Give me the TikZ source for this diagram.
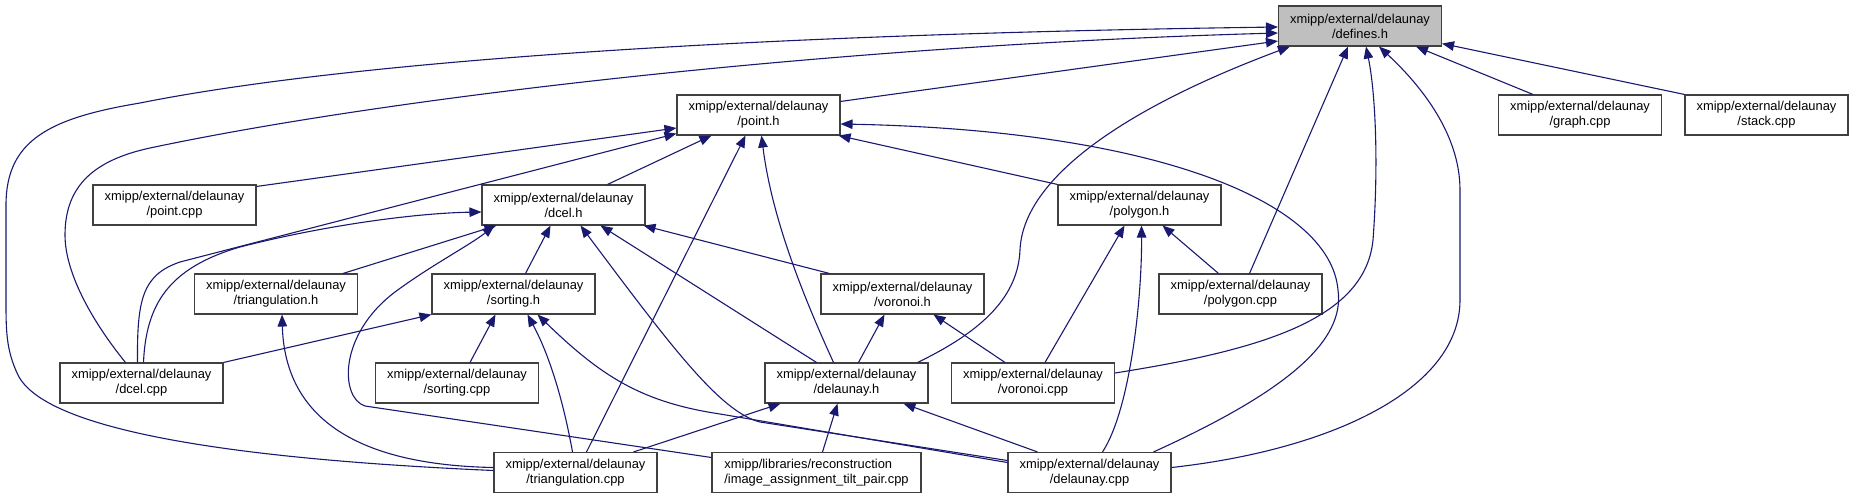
\documentclass[tikz,border=0pt]{standalone}
\usepackage{fontspec}
\setmainfont{Liberation Sans}
\usetikzlibrary{arrows.meta,calc}
\definecolor{depblue}{RGB}{25,25,112}
\definecolor{focusgray}{RGB}{191,191,191}
\definecolor{boxline}{RGB}{64,64,64}

\begin{document}
\begin{tikzpicture}[x=1pt,y=-1pt,
    hfile/.style={rectangle,draw=boxline,line width=1.1pt,fill=white,minimum width=163pt,
      minimum height=40pt,inner sep=0pt,align=center,font=\fontsize{12.9}{15}\selectfont},
    dep/.style={-{Triangle[length=12pt,width=9.5pt]},draw=depblue,line width=1.1pt}]
        \useasboundingbox (0,0) rectangle (1853,499);

        \node[hfile,fill=focusgray] (defines) at (1360,26) {xmipp/external/delaunay\\/defines.h};

        \node[hfile] (pointh) at (758.5,115) {xmipp/external/delaunay\\/point.h};
        \node[hfile] (graphcpp) at (1580,115) {xmipp/external/delaunay\\/graph.cpp};
        \node[hfile] (stackcpp) at (1766.5,115) {xmipp/external/delaunay\\/stack.cpp};

        \node[hfile] (pointcpp) at (174.5,205) {xmipp/external/delaunay\\/point.cpp};
        \node[hfile] (dcelh) at (563.5,205) {xmipp/external/delaunay\\/dcel.h};
        \node[hfile] (polygonh) at (1139.5,205) {xmipp/external/delaunay\\/polygon.h};

        \node[hfile] (trih) at (276,294) {xmipp/external/delaunay\\/triangulation.h};
        \node[hfile] (sortingh) at (513.5,294) {xmipp/external/delaunay\\/sorting.h};
        \node[hfile] (voronoih) at (902.5,294) {xmipp/external/delaunay\\/voronoi.h};
        \node[hfile] (polygoncpp) at (1240.5,294) {xmipp/external/delaunay\\/polygon.cpp};

        \node[hfile] (dcelcpp) at (141.5,383) {xmipp/external/delaunay\\/dcel.cpp};
        \node[hfile] (sortingcpp) at (457,383) {xmipp/external/delaunay\\/sorting.cpp};
        \node[hfile] (delaunayh) at (846.5,383) {xmipp/external/delaunay\\/delaunay.h};
        \node[hfile] (voronoicpp) at (1033,383) {xmipp/external/delaunay\\/voronoi.cpp};

        \node[hfile] (tricpp) at (575.5,472.5) {xmipp/external/delaunay\\/triangulation.cpp};
        \node[hfile,minimum width=209pt,align=left] (imgpair) at (816.5,472.5) {xmipp/libraries/reconstruction\\/image\_assignment\_tilt\_pair.cpp};
        \node[hfile] (delaunaycpp) at (1089.5,472.5) {xmipp/external/delaunay\\/delaunay.cpp};

        \draw[dep] ($(tricpp.west)+(0,-2)$) .. controls (300,462) and (50,440) .. (18,375) .. controls (6,350) and (6,330) .. (6,300) -- (6,205) .. controls (6,140) and (50,118) .. (140,103) .. controls (330,65) and (700,35) .. ($(defines.west)+(0,1)$);
        \draw[dep] ($(dcelcpp.north)+(-16,0)$) .. controls (95,325) and (65,275) .. (65,235) .. controls (65,185) and (95,160) .. (150,148) .. controls (400,95) and (850,45) .. ($(defines.west)+(0,7)$);
        \draw[dep] ($(pointh.north east)+(0,7)$) -- ($(defines.west)+(0,15)$);
        \draw[dep] ($(delaunayh.north east)+(-11,0)$) .. controls (985,330) and (1018,295) .. (1020,250) .. controls (1023,180) and (1120,110) .. ($(defines.south west)+(12,0)$);
        \draw[dep] ($(polygoncpp.north)+(9,0)$) -- ($(defines.south)+(-12,0)$);
        \draw[dep] ($(voronoicpp.east)+(0,-10)$) .. controls (1260,350) and (1365,320) .. (1373,240) .. controls (1379,160) and (1375,90) .. ($(defines.south)+(6,0)$);
        \draw[dep] ($(delaunaycpp.east)+(0,-5)$) .. controls (1330,450) and (1460,390) .. (1460,300) -- (1460,190) .. controls (1460,130) and (1415,80) .. ($(defines.south)+(19,0)$);
        \draw[dep] ($(graphcpp.north)+(-47,0)$) -- ($(defines.south)+(56,0)$);
        \draw[dep] (stackcpp.north west) -- ($(defines.south east)+(0,-3)$);

        \draw[dep] ($(pointcpp.north east)+(0,2)$) -- ($(pointh.west)+(0,13)$);
        \draw[dep] ($(dcelcpp.north)+(-4,0)$) .. controls (137,300) and (142,275) .. (180,262) -- ($(pointh.south west)+(0,-2)$);
        \draw[dep] ($(dcelh.north)+(44,0)$) -- ($(pointh.south west)+(35,0)$);
        \draw[dep] ($(tricpp.north)+(11,0)$) -- ($(pointh.south)+(-13,0)$);
        \draw[dep] ($(delaunayh.north)+(-13,0)$) .. controls (805,300) and (772,220) .. ($(pointh.south)+(3,0)$);
        \draw[dep] (polygonh.north west) -- ($(pointh.south east)+(-2,0)$);
        \draw[dep] ($(delaunaycpp.north)+(64,0)$) .. controls (1290,390) and (1345,340) .. (1338,290) .. controls (1330,200) and (1150,130) .. ($(pointh.east)+(0,9)$);

        \draw[dep] ($(dcelcpp.north)+(2,0)$) .. controls (146,305) and (168,268) .. (240,247) .. controls (330,224) and (420,213) .. ($(dcelh.west)+(0,7)$);
        \draw[dep] ($(trih.north)+(67,0)$) -- ($(dcelh.south west)+(15,0)$);
        \draw[dep] ($(imgpair.west)+(0,-15)$) -- (365,406) .. controls (340,398) and (338,335) .. (395,292) .. controls (430,266) and (470,245) .. ($(dcelh.south west)+(13,0)$);
        \draw[dep] ($(sortingh.north)+(12,0)$) -- ($(dcelh.south)+(-13,0)$);
        \draw[dep] ($(delaunaycpp.west)+(0,-12)$) -- (760,422) .. controls (720,412) and (670,345) .. ($(dcelh.south)+(17,0)$);
        \draw[dep] ($(delaunayh.north)+(-30,0)$) -- ($(dcelh.south)+(37,0)$);
        \draw[dep] ($(voronoih.north west)+(9,0)$) -- ($(dcelh.south east)+(-2,0)$);

        \draw[dep] (dcelcpp.north east) -- (sortingh.south west);
        \draw[dep] ($(sortingcpp.north)+(13,0)$) -- ($(sortingh.south)+(-18,0)$);
        \draw[dep] ($(tricpp.north)+(-3,0)$) .. controls (565,410) and (552,360) .. ($(sortingh.south)+(14,0)$);
        \draw[dep] ($(delaunaycpp.west)+(0,-10)$) -- (720,414) .. controls (640,402) and (600,375) .. ($(sortingh.south)+(24,0)$);

        \draw[dep] ($(tricpp.west)+(0,-5)$) .. controls (360,465) and (285,420) .. ($(trih.south)+(6,0)$);

        \draw[dep] ($(delaunayh.north)+(12,0)$) -- ($(voronoih.south)+(-18,0)$);
        \draw[dep] ($(voronoicpp.north)+(-28,0)$) -- ($(voronoih.south)+(31,0)$);

        \draw[dep] ($(voronoicpp.north)+(12,0)$) -- ($(polygonh.south)+(-15,0)$);
        \draw[dep] ($(delaunaycpp.north)+(13,0)$) .. controls (1130,410) and (1142,300) .. ($(polygonh.south)+(2,0)$);
        \draw[dep] ($(polygoncpp.north)+(-22,0)$) -- ($(polygonh.south)+(23,0)$);

        \draw[dep] ($(tricpp.north east)+(-24,0)$) -- ($(delaunayh.south)+(-66,0)$);
        \draw[dep] ($(imgpair.north)+(6,0)$) -- ($(delaunayh.south)+(-9,0)$);
        \draw[dep] ($(delaunaycpp.north)+(-52,0)$) -- ($(delaunayh.south)+(57,0)$);
      \end{tikzpicture}
\end{document}
